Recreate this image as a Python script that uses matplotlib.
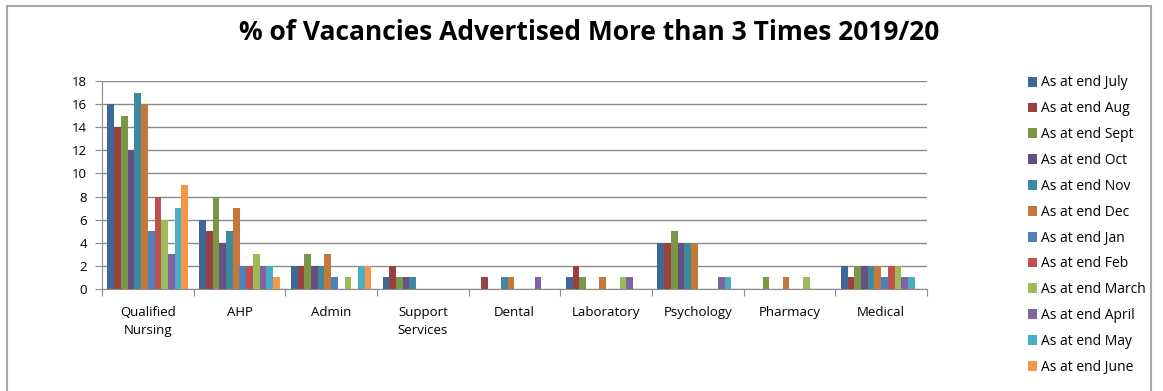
import numpy as np
import matplotlib.pyplot as plt
from matplotlib.patches import Rectangle

# categories and series (one value per category)
categories = ['Qualified\nNursing', 'AHP', 'Admin', 'Support\nServices', 'Dental',
              'Laboratory', 'Psychology', 'Pharmacy', 'Medical']
series_names = ['As at end July', 'As at end Aug', 'As at end Sept', 'As at end Oct',
                'As at end Nov', 'As at end Dec', 'As at end Jan', 'As at end Feb',
                'As at end March', 'As at end April', 'As at end May', 'As at end June']

july  = [16, 6, 2, 1, 0, 1, 4, 0, 2]
aug   = [14, 5, 2, 2, 1, 2, 4, 0, 1]
sept  = [15, 8, 3, 1, 0, 1, 5, 1, 2]
oct_  = [12, 4, 2, 1, 0, 0, 4, 0, 2]
nov   = [17, 5, 2, 1, 1, 0, 4, 0, 2]
dec   = [16, 7, 3, 0, 1, 1, 4, 1, 2]
jan   = [5, 2, 1, 0, 0, 0, 0, 0, 1]
feb   = [8, 2, 0, 0, 0, 0, 0, 0, 2]
march = [6, 3, 1, 0, 0, 1, 0, 1, 2]
april = [3, 2, 0, 0, 1, 1, 1, 0, 1]
may   = [7, 2, 2, 0, 0, 0, 1, 0, 1]
june  = [9, 1, 2, 0, 0, 0, 0, 0, 0]

colors = ['#3F6797', '#9A403E', '#7C9647', '#665082', '#3C8A9E', '#C6783A',
          '#4F81BD', '#C0504D', '#9BBB59', '#8064A2', '#4BACC6', '#F79646']

yticks = list(range(0, 20, 2))


def main():
    plt.rcParams['font.family'] = ['Open Sans', 'DejaVu Sans']
    data = [july, aug, sept, oct_, nov, dec, jan, feb, march, april, may, june]

    fig = plt.figure(figsize=(11.63, 3.91), dpi=100)
    W, H = 1163., 391.
    # plot area in pixels: left 102, right 927, top 81, bottom 289
    ax = fig.add_axes([102/W, 1-289/H, (927-102)/W, (289-81)/H])

    # outer chart border
    fig.patches.append(Rectangle((7/W, -0.05), (1151-7)/W, 1-6/H+0.05,
                                 transform=fig.transFigure, fill=False,
                                 ec='#a6a6a6', lw=1.5))

    n = len(data)
    bw = 0.88/n
    x = np.arange(len(categories))
    for i, vals in enumerate(data):
        ax.bar(x - 0.44 + bw*(i+0.5), vals, bw, color=colors[i], label=series_names[i],
               zorder=3)

    ax.set_xlim(-0.5, len(categories)-0.5)
    ax.set_ylim(0, 18)
    ax.set_yticks(yticks)
    ax.set_yticklabels([str(t) for t in yticks], fontsize=9.5)
    ax.yaxis.grid(True, color='#8c8c8c', lw=1, zorder=0)
    ax.tick_params(axis='y', length=5, color='#8c8c8c', pad=6)

    # category boundary ticks, labels at centres
    ax.set_xticks(np.arange(len(categories)+1) - 0.5)
    ax.set_xticklabels([])
    ax.set_xticks(x, minor=True)
    ax.set_xticklabels(categories, minor=True, fontsize=9.5, linespacing=1.5)
    ax.tick_params(axis='x', which='major', length=5, color='#8c8c8c')
    ax.tick_params(axis='x', which='minor', length=0, pad=12)

    for s in ['top', 'right']:
        ax.spines[s].set_visible(False)
    for s in ['left', 'bottom']:
        ax.spines[s].set_color('#8c8c8c')

    fig.text(589/W, 1-33/H, '% of Vacancies Advertised More than 3 Times 2019/20',
             ha='center', va='center', fontsize=19, fontweight='bold')

    leg = ax.legend(loc='upper left', bbox_to_anchor=(1015/W, 1-63/H),
                    bbox_transform=fig.transFigure, frameon=False, fontsize=10,
                    handlelength=0.7, handleheight=0.7, handletextpad=0.3,
                    labelspacing=0.78)

    plt.savefig('out.png', dpi=100)


if (__name__ == "__main__"):
    main()
